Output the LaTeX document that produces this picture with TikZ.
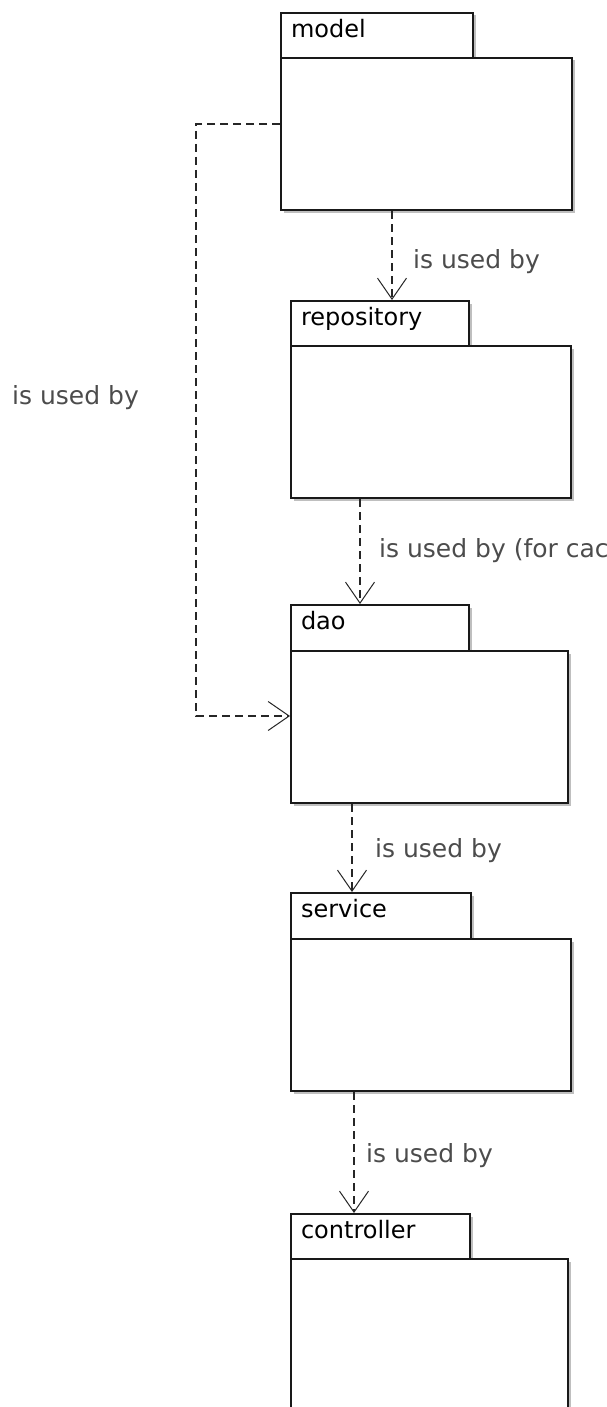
\documentclass[tikz,border=0pt]{standalone}
\usepackage{fontspec}
\setmainfont{DejaVu Sans}
\usetikzlibrary{arrows.meta,shadows}
\tikzset{
  pkgshadow/.style={drop shadow={shadow xshift=2.5pt, shadow yshift=-2.5pt, fill=black!25, opacity=1}},
  pkgtab/.style={draw=black!90, line width=2pt, fill=white, pkgshadow, anchor=north west,
    minimum height=45.5pt, inner ysep=0pt, inner xsep=10pt, align=left,
    text height=17pt, text depth=13.1pt, font=\fontsize{24}{28}\selectfont},
  pkgbody/.style={draw=black!90, line width=2pt, fill=white, pkgshadow, anchor=north west,
    minimum height=152pt, inner sep=0pt},
  dep/.style={draw=black!85, line width=1.2pt, dash pattern=on 8pt off 5pt,
    -{Straight Barb[length=21pt, width=29pt, line width=1pt]}},
  lbl/.style={anchor=base west, inner sep=0pt, text=black!70, font=\fontsize{25}{29}\selectfont}
}
\begin{document}
\begin{tikzpicture}[x=1pt, y=-1pt]
\useasboundingbox (0,0) rectangle (607,1407);
\clip (0,0) rectangle (607,1407);
\fill[white] (0,0) rectangle (607,1407);

% model
\node[pkgtab, minimum width=192pt, text width=172pt] (modeltab) at (280,12) {model};
\node[pkgbody, minimum width=291pt] (model) at (280,57) {};
% repository
\node[pkgtab, minimum width=178pt, text width=158pt] (repotab) at (290,300) {repository};
\node[pkgbody, minimum width=280pt] (repo) at (290,345) {};
% dao
\node[pkgtab, minimum width=178pt, text width=158pt] (daotab) at (290,604) {dao};
\node[pkgbody, minimum width=277pt] (dao) at (290,650) {};
% service
\node[pkgtab, minimum width=180pt, text width=160pt] (servicetab) at (290,892) {service};
\node[pkgbody, minimum width=280pt] (service) at (290,938) {};
% controller
\node[pkgtab, minimum width=179pt, text width=159pt] (controllertab) at (290,1213) {controller};
\node[pkgbody, minimum width=277pt, minimum height=220pt] (controller) at (290,1258) {};

% connector x positions
\coordinate (ax1) at (392,0);
\coordinate (ax2) at (360,0);
\coordinate (ax3) at (352,0);
\coordinate (ax4) at (354,0);
\coordinate (ml) at (196,124);
\coordinate (dl) at (196,716);

\draw[dep] (model.south -| ax1) -- (repotab.north -| ax1);
\draw[dep] (repo.south -| ax2) -- (daotab.north -| ax2);
\draw[dep] (dao.south -| ax3) -- (servicetab.north -| ax3);
\draw[dep] (service.south -| ax4) -- (controllertab.north -| ax4);
\draw[dep] (model.west |- ml) -- (ml) -- (dl) -- (dao.west |- dl);

% labels
\node[lbl] (l1) at (413,268) {is used by};
\node[lbl] (l2) at (379,557) {is used by (for cac};
\node[lbl] (l3) at (375,857) {is used by};
\node[lbl] (l4) at (366,1162) {is used by};
\node[lbl] (l5) at (12,404) {is used by};
\end{tikzpicture}
\end{document}
